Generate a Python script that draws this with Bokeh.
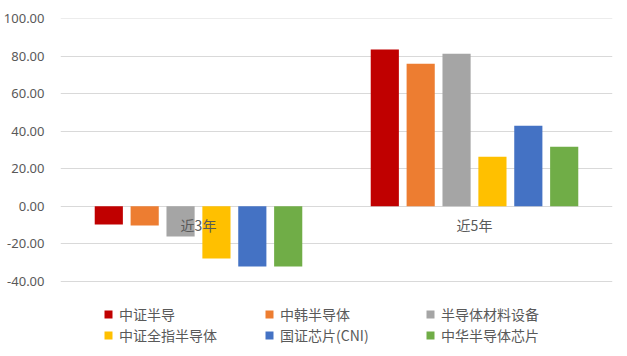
from bokeh.plotting import figure
from bokeh.models import (FactorRange, Range1d, ColumnDataSource, Legend, LegendItem,
                          FixedTicker, NumeralTickFormatter)
from bokeh.transform import dodge
from bokeh.core.properties import value
from bokeh.embed import file_html
from bokeh.resources import INLINE

categories = ["近3年", "近5年"]
series_names = ["中证半导", "中韩半导体", "半导体材料设备", "中证全指半导体", "国证芯片(CNI)", "中华半导体芯片"]
zhongzheng_bandao = [-9.8, 83.6]
zhonghan_bandaoti = [-10.4, 76.1]
bandaoti_cailiao_shebei = [-16.2, 81.4]
quanzhi_bandaoti = [-28.0, 26.4]
guozheng_xinpian = [-32.3, 42.9]
zhonghua_bandaoti_xinpian = [-32.3, 31.7]
y_ticks = [-40, -20, 0, 20, 40, 60, 80, 100]

series_values = [zhongzheng_bandao, zhonghan_bandaoti, bandaoti_cailiao_shebei,
                 quanzhi_bandaoti, guozheng_xinpian, zhonghua_bandaoti_xinpian]
colors = ["#C00000", "#ED7D31", "#A5A5A5", "#FFC000", "#4472C4", "#70AD47"]
offsets = [-0.325, -0.195, -0.065, 0.065, 0.195, 0.325]

data = {"cat": categories}
for i, vals in enumerate(series_values):
    data[f"s{i}"] = vals
source = ColumnDataSource(data)

p = figure(x_range=FactorRange(*categories, range_padding=0), y_range=Range1d(-77.1, 100.2),
           width=618, height=350, output_backend="svg", toolbar_location=None,
           min_border_left=58, min_border_right=6, min_border_top=18, min_border_bottom=0)
p.outline_line_color = None
p.background_fill_color = "white"
p.border_fill_color = "white"

renderers = []
for i in range(6):
    r = p.vbar(x=dodge("cat", offsets[i], range=p.x_range), top=f"s{i}", bottom=0,
               width=0.102, source=source, color=colors[i], line_color=None)
    renderers.append(r)

p.text(x="cat", y=0, text="cat", source=source, y_offset=9,
       text_align="center", text_baseline="top", text_color="#595959",
       text_font=value("Noto Sans CJK SC"), text_font_size="14px")

p.xaxis.visible = False
p.xgrid.grid_line_color = None
p.ygrid.grid_line_color = "#D9D9D9"
p.ygrid.grid_line_width = 1
p.yaxis.ticker = FixedTicker(ticks=y_ticks)
p.yaxis.formatter = NumeralTickFormatter(format="0.00")
p.yaxis.axis_line_color = None
p.yaxis.major_tick_line_color = None
p.yaxis.minor_tick_line_color = None
p.yaxis.major_label_text_color = "#595959"
p.yaxis.major_label_text_font = "Noto Sans"
p.yaxis.major_label_text_font_size = "13px"
p.yaxis.major_label_standoff = 10

items = [LegendItem(label=series_names[i], renderers=[renderers[i]]) for i in range(6)]
legend = Legend(items=items, orientation="horizontal", ncols=3, location=(43, 5),
                glyph_width=10, glyph_height=10, label_width=144, label_standoff=6,
                spacing=1, label_text_font="Noto Sans CJK SC", label_text_font_size="14px",
                label_text_color="#595959", border_line_color=None, background_fill_alpha=0,
                padding=0, margin=0, label_height=16)
p.add_layout(legend, "center")

open("out.html", "w").write(file_html(p, INLINE))
